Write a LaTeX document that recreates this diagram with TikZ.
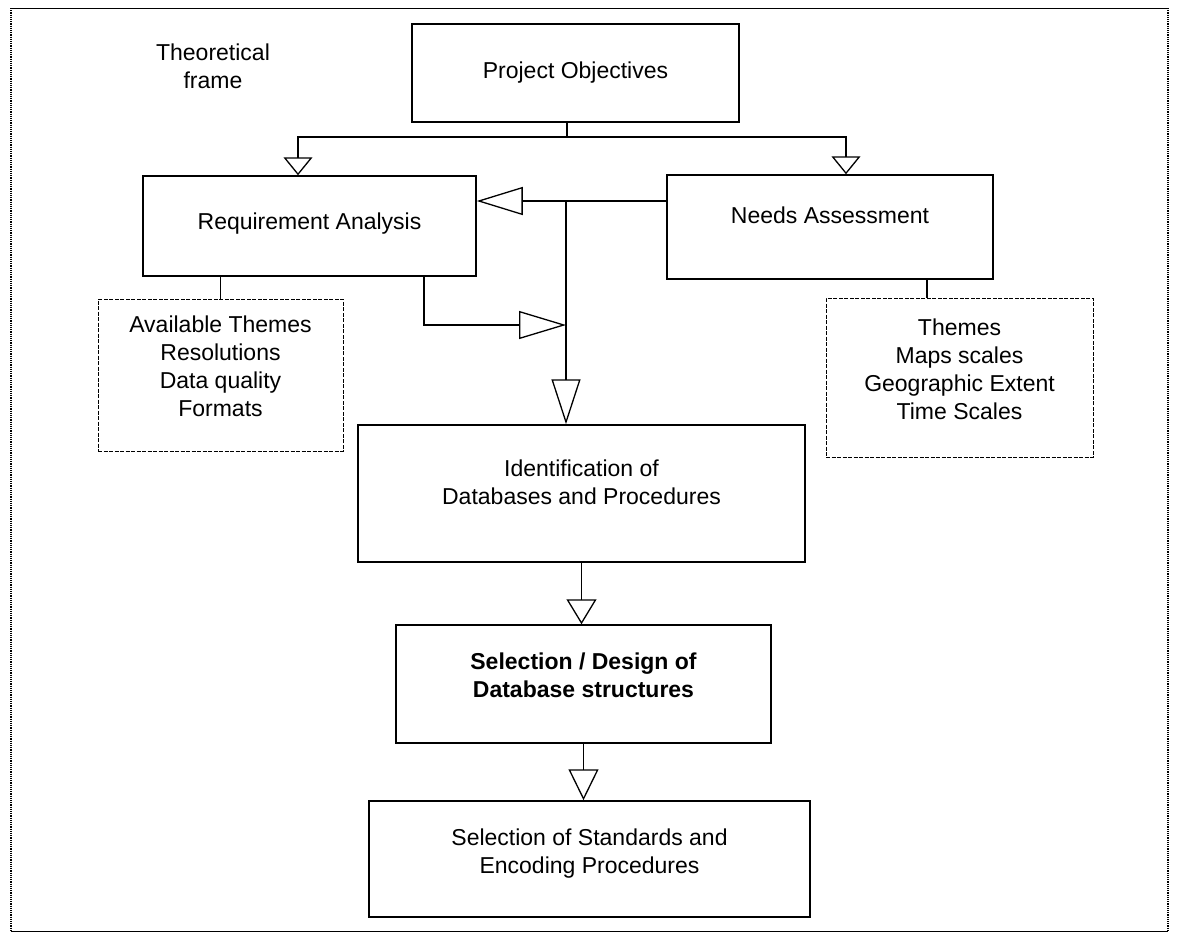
\documentclass[tikz,border=0pt]{standalone}
\usepackage{fontspec}
\setmainfont{Liberation Sans}
\usetikzlibrary{arrows.meta}

% move the text of a box up without changing its size
\newcommand{\lifttext}[2]{\raisebox{#1}[\height][\depth]{\begin{tabular}{@{}c@{}}#2\end{tabular}}}

\tikzset{
	stage/.style={draw, line width=1.5pt, inner sep=0pt, align=center,
		font=\fontsize{23}{28}\selectfont},
	notes/.style={stage, line width=1pt, dash pattern=on 4pt off 1.5pt},
	opentip/.style 2 args={-{Triangle[open, length=#1, width=#2]}}
}

\begin{document}
	\begin{tikzpicture}[x=1pt, y=-1pt, line width=1.3pt]
		\useasboundingbox (0,0) rectangle (1178,935);

		% outer frame
		\draw [line width=1pt] (11,8) -- (1168,8) (11,931) -- (1168,931);
		\draw [line width=1.2pt, densely dotted] (11,8) -- (11,931) (1168,8) -- (1168,931);

		\node [font=\fontsize{23}{28}\selectfont, align=center] (title) at (213,66) {Theoretical\\frame};

		\node [stage, minimum width=327pt, minimum height=98pt] (obj) at (575.5,73) {Project Objectives};
		\node [stage, minimum width=333pt, minimum height=100pt] (req) at (309.5,226) {\lifttext{2pt}{Requirement Analysis}};
		\node [stage, minimum width=326pt, minimum height=104pt] (needs) at (830,227) {\lifttext{9pt}{Needs Assessment}};

		\node [notes, minimum width=245pt, minimum height=152pt] (avail) at (220.5,375)
			{\lifttext{6pt}{Available Themes\\Resolutions\\Data quality\\Formats}};
		\node [notes, minimum width=267pt, minimum height=159pt] (themes) at (959.5,377.5)
			{\lifttext{6pt}{Themes\\Maps scales\\Geographic Extent\\Time Scales}};

		\node [stage, minimum width=447pt, minimum height=137pt] (ident) at (581.5,493.5)
			{\lifttext{9pt}{Identification of\\Databases and Procedures}};
		\node [stage, minimum width=375pt, minimum height=118pt, font=\fontsize{23}{28}\selectfont\bfseries] (design) at (583.5,684)
			{\lifttext{6pt}{Selection / Design of\\Database structures}};
		\node [stage, minimum width=441pt, minimum height=116pt] (std) at (589.5,859)
			{\lifttext{5pt}{Selection of Standards and\\Encoding Procedures}};

		% objectives split
		\coordinate (split) at (567,137);
		\draw (split |- obj.south) -- (split);
		\draw [opentip={18pt}{29pt}] (split) -| ([xshift=-11.5pt]req.north);
		\draw [opentip={18pt}{29pt}] (split) -| ([xshift=16pt]needs.north);

		% feedback hub
		\coordinate (hub) at (566,201);
		\coordinate (merge) at (566,325);
		\draw (needs.west |- hub) -- (hub);
		\draw [opentip={46pt}{28pt}] (hub) -- (req.east |- hub);
		\draw [opentip={45pt}{29pt}] (hub) -- (hub |- ident.north);
		\draw [opentip={47pt}{28pt}] ([xshift=114.5pt]req.south) |- (merge);

		\draw (avail.north) -- (avail.north |- req.south);
		\draw ([xshift=97pt]needs.south) -- ([xshift=97pt]needs.south |- themes.north);

		\draw [opentip={25pt}{30pt}] (ident.south) -- (ident.south |- design.north);
		\draw [opentip={31pt}{30pt}] (design.south) -- (design.south |- std.north);
	\end{tikzpicture}
\end{document}
